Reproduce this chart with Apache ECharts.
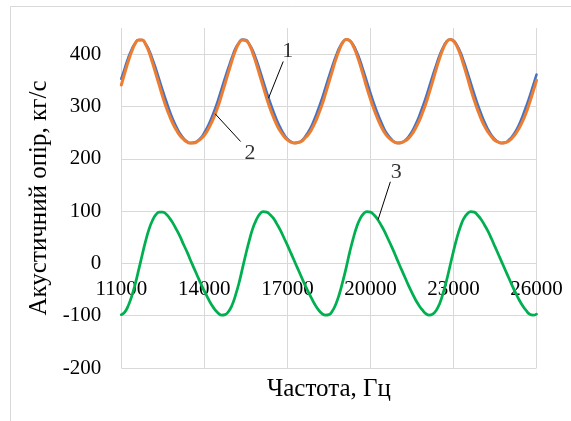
<!DOCTYPE html>
<html>
<head>
<meta charset="utf-8">
<script src="https://cdn.jsdelivr.net/npm/echarts@6/dist/echarts.min.js"></script>
<style>
  html, body { margin: 0; padding: 0; background: #ffffff; }
  #chart { width: 571px; height: 421px; }
</style>
</head>
<body>
<div id="chart"></div>
<script>
// Frequency grid, Hz
const freqHz = [
  11000, 11125, 11250, 11375, 11500, 11625, 11750, 11875, 12000, 12125,
  12250, 12375, 12500, 12625, 12750, 12875, 13000, 13125, 13250, 13375,
  13500, 13625, 13750, 13875, 14000, 14125, 14250, 14375, 14500, 14625,
  14750, 14875, 15000, 15125, 15250, 15375, 15500, 15625, 15750, 15875,
  16000, 16125, 16250, 16375, 16500, 16625, 16750, 16875, 17000, 17125,
  17250, 17375, 17500, 17625, 17750, 17875, 18000, 18125, 18250, 18375,
  18500, 18625, 18750, 18875, 19000, 19125, 19250, 19375, 19500, 19625,
  19750, 19875, 20000, 20125, 20250, 20375, 20500, 20625, 20750, 20875,
  21000, 21125, 21250, 21375, 21500, 21625, 21750, 21875, 22000, 22125,
  22250, 22375, 22500, 22625, 22750, 22875, 23000, 23125, 23250, 23375,
  23500, 23625, 23750, 23875, 24000, 24125, 24250, 24375, 24500, 24625,
  24750, 24875, 25000, 25125, 25250, 25375, 25500, 25625, 25750, 25875,
  26000
];

// Curve 1: active acoustic resistance, kg/s
const curve1 = [
  353, 373, 393, 409, 421, 427, 427, 420, 408, 391,
  372, 351, 330, 310, 291, 274, 260, 248, 239, 233,
  230, 231, 234, 240, 250, 262, 277, 294, 313, 334,
  355, 375, 394, 411, 422, 428, 427, 419, 407, 390,
  370, 349, 328, 308, 290, 273, 259, 247, 238, 233,
  230, 231, 234, 241, 251, 263, 279, 296, 315, 336,
  357, 377, 396, 412, 423, 428, 426, 418, 405, 388,
  368, 347, 326, 306, 288, 272, 257, 246, 238, 232,
  230, 231, 235, 242, 252, 265, 280, 298, 317, 338,
  359, 379, 398, 413, 424, 428, 426, 417, 404, 386,
  366, 345, 324, 304, 286, 270, 256, 245, 237, 232,
  230, 231, 236, 243, 253, 266, 282, 300, 319, 340,
  361
];

// Curve 2: active acoustic resistance, kg/s
const curve2 = [
  341, 364, 386, 405, 420, 427, 427, 419, 404, 384,
  362, 340, 318, 298, 281, 266, 254, 244, 237, 232,
  230, 230, 233, 238, 245, 255, 268, 283, 301, 322,
  344, 366, 388, 407, 421, 427, 426, 418, 402, 382,
  360, 338, 316, 296, 279, 264, 252, 243, 236, 232,
  230, 231, 233, 239, 246, 256, 269, 285, 303, 324,
  346, 368, 390, 408, 422, 428, 426, 416, 400, 380,
  358, 335, 314, 295, 278, 263, 251, 242, 236, 232,
  230, 231, 234, 239, 247, 258, 271, 287, 305, 326,
  348, 371, 392, 410, 423, 428, 425, 415, 399, 378,
  356, 333, 312, 293, 276, 262, 251, 242, 235, 232,
  230, 231, 234, 240, 248, 259, 272, 288, 307, 328,
  350
];

// Curve 3: reactive acoustic resistance, kg/s
const curve3 = [
  -98, -93, -81, -63, -40, -13, 15, 42, 65, 82,
  93, 98, 98, 94, 86, 76, 64, 51, 36, 22,
  6, -9, -24, -39, -53, -66, -78, -88, -95, -99,
  -98, -92, -80, -61, -38, -10, 18, 44, 67, 83,
  94, 99, 98, 93, 86, 75, 63, 49, 35, 20,
  5, -10, -25, -40, -54, -67, -79, -89, -96, -99,
  -98, -91, -78, -59, -35, -8, 21, 47, 69, 85,
  95, 99, 98, 93, 85, 74, 62, 48, 34, 19,
  3, -12, -27, -42, -56, -69, -80, -89, -96, -99,
  -97, -90, -77, -57, -33, -5, 23, 49, 70, 86,
  95, 99, 98, 92, 84, 73, 61, 47, 32, 17,
  2, -13, -28, -43, -57, -70, -81, -90, -97, -99,
  -97
];

// Callout numbers with their leader lines (data units)
const calloutText = ['1', '2', '3'];
const calloutAt = [[17010, 405], [15650, 211], [20930, 175]];
const leaderFrom = [[16850, 386], [15310, 233], [20720, 156]];
const leaderTo = [[16320, 316], [14390, 286], [20280, 84]];

const xTicks = { min: 11000, max: 26000, step: 3000 };
const yTicks = { min: -200, max: 450, step: 100 };

const FONT = "'Liberation Serif', 'Times New Roman', serif";
const GRID_COLOR = '#d9d9d9';

// Plot box in pixels
const PLOT = { left: 121.3, right: 34.5, top: 28, bottom: 53 };
const plotHeight = 421 - PLOT.top - PLOT.bottom;
// distance from the bottom edge up to the zero line, so the frequency axis sits at 0
const zeroLift = plotHeight * (0 - yTicks.min) / (yTicks.max - yTicks.min);

const pair = (xs, ys) => xs.map((x, i) => [x, ys[i]]);

const curveSeries = (name, values, color, width) => ({
  name,
  type: 'line',
  data: pair(freqHz, values),
  smooth: true,
  showSymbol: false,
  symbol: 'none',
  silent: true,
  animation: false,
  lineStyle: { color, width, cap: 'round', join: 'round' },
  z: 3
});

const leaderSeries = calloutText.map((t, i) => ({
  type: 'line',
  data: [leaderFrom[i], leaderTo[i]],
  showSymbol: false,
  symbol: 'none',
  silent: true,
  animation: false,
  lineStyle: { color: '#000000', width: 1 },
  z: 5
}));

const calloutSeries = {
  type: 'scatter',
  data: calloutAt.map((p, i) => ({ value: p, name: calloutText[i] })),
  symbol: 'circle',
  symbolSize: 1,
  itemStyle: { color: 'rgba(0,0,0,0)' },
  silent: true,
  animation: false,
  label: {
    show: true,
    position: 'inside',
    formatter: (p) => p.name,
    color: '#000000',
    fontFamily: FONT,
    fontSize: 22
  },
  z: 6
};

const chart = echarts.init(document.getElementById('chart'), null, { renderer: 'canvas' });

chart.setOption({
  animation: false,
  backgroundColor: '#ffffff',
  graphic: [
    {
      type: 'rect',
      shape: { x: 10.5, y: 6.5, width: 600, height: 440 },
      style: { fill: 'none', stroke: GRID_COLOR, lineWidth: 1 },
      silent: true,
      z: -10
    },
    {
      type: 'text',
      x: PLOT.left + (571 - PLOT.left - PLOT.right) / 2,
      y: 389,
      style: {
        text: 'Частота, Гц',
        fontFamily: FONT,
        fontSize: 25,
        fill: '#000000',
        align: 'center',
        verticalAlign: 'middle'
      },
      silent: true
    }
  ],
  grid: { left: PLOT.left, right: PLOT.right, top: PLOT.top, bottom: PLOT.bottom, containLabel: false },
  xAxis: {
    type: 'value',
    min: xTicks.min,
    max: xTicks.max,
    interval: xTicks.step,
    position: 'bottom',
    offset: -zeroLift,
    axisLine: { show: true, onZero: false, lineStyle: { color: GRID_COLOR, width: 1 } },
    axisTick: { show: false },
    axisLabel: {
      color: '#000000',
      fontFamily: FONT,
      fontSize: 21,
      margin: 16,
      showMinLabel: true,
      showMaxLabel: true,
      hideOverlap: false,
      formatter: (v) => String(v)
    },
    splitLine: { show: true, lineStyle: { color: GRID_COLOR, width: 1 } }
  },
  yAxis: {
    type: 'value',
    min: yTicks.min,
    max: yTicks.max,
    interval: yTicks.step,
    name: 'Акустичний опір, кг/с',
    nameLocation: 'middle',
    nameGap: 53,
    nameTextStyle: { fontFamily: FONT, fontSize: 25, color: '#000000' },
    axisLine: { show: false },
    axisTick: { show: false },
    axisLabel: {
      color: '#000000',
      fontFamily: FONT,
      fontSize: 21,
      margin: 20,
      showMaxLabel: false,
      formatter: (v) => String(v)
    },
    splitLine: { show: true, showMaxLine: false, lineStyle: { color: GRID_COLOR, width: 1 } }
  },
  series: [
    curveSeries('1', curve1, '#4472C4', 2.5),
    curveSeries('2', curve2, '#ED7D31', 3),
    curveSeries('3', curve3, '#00B050', 2.75),
    ...leaderSeries,
    calloutSeries
  ]
});
</script>
</body>
</html>
